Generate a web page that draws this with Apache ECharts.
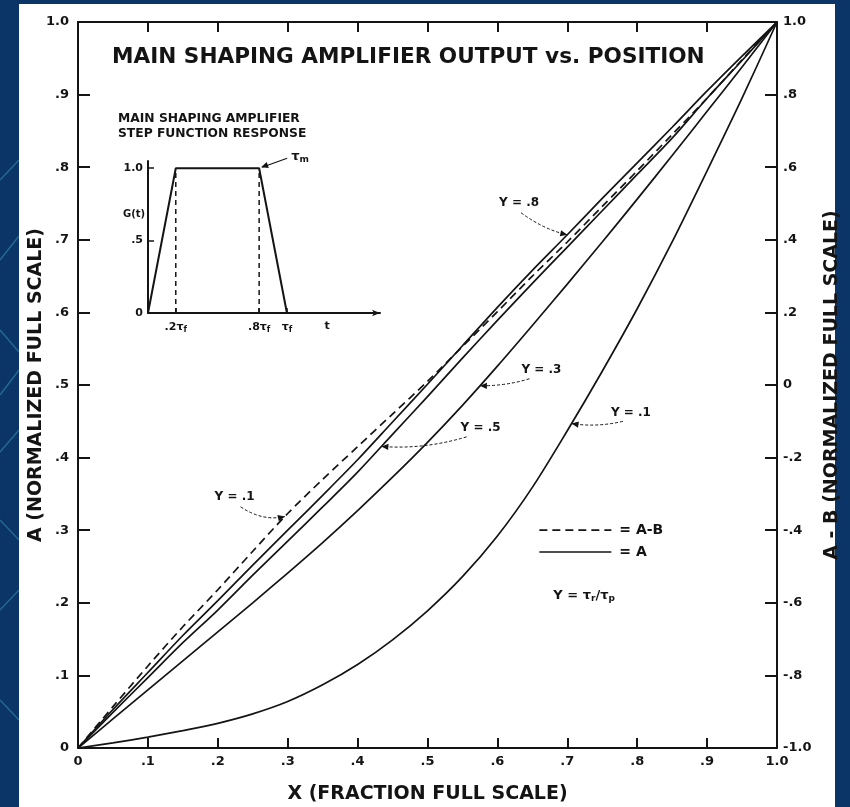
<!DOCTYPE html>
<html>
<head>
<meta charset="utf-8">
<script src="https://cdn.jsdelivr.net/npm/echarts@6/dist/echarts.min.js"></script>
<style>
  html, body { margin: 0; padding: 0; background: #0a3566; }
  #chart { width: 850px; height: 807px; }
</style>
</head>
<body>
<div id="chart"></div>
<script>
// Position along the detector (fraction of full scale)
const xs = [0, .05, .1, .15, .2, .25, .3, .35, .4, .45, .5, .55, .6, .65, .7, .75, .8, .85, .9, .95, 1];

// A (normalized full scale) for several shaping ratios Y = tau_r / tau_p
const aY08 = [0, .053, .104, .155, .203, .252, .300, .348, .397, .449, .501, .554, .607, .658, .707, .757, .806, .855, .905, .953, 1];
const aY05 = [0, .049, .097, .145, .190, .238, .285, .332, .380, .432, .484, .537, .589, .640, .690, .740, .790, .840, .895, .947, 1];
const aY03 = [0, .040, .080, .120, .160, .200, .241, .283, .327, .373, .421, .472, .526, .582, .639, .697, .756, .816, .877, .938, 1];
const aY01 = [0, .007, .015, .024, .034, .047, .064, .087, .115, .149, .189, .236, .292, .359, .437, .519, .605, .697, .795, .895, 1];

// A - B (normalized full scale, right-hand axis) for Y = .1
const abY01 = [-1, -.886, -.774, -.666, -.564, -.458, -.354, -.260, -.170, -.080, .010, .106, .202, .300, .394, .492, .590, .690, .790, .896, 1];

// Inset: main shaping amplifier step function response, t in units of tau_f
const stepT = [0, .2, .8, 1];
const stepG = [0, 1, 1, 0];
const stepGuides = [.2, .8];
const stepTicks = [.2, .8, 1];
const stepTickText = ['.2τ{s|f}', '.8τ{s|f}', 'τ{s|f}'];

// Curve labels: text, label centre (x, A), curve and x where the arrow lands
const curveNotes = [
  { text: 'Y = .1', at: [.224, .346], curve: 'abY01', tipX: .296, start: [6, 10], sag: 10 },
  { text: 'Y = .8', at: [.631, .751], curve: 'aY08', tipX: .700, start: [2, 10], sag: 6 },
  { text: 'Y = .3', at: [.663, .521], curve: 'aY03', tipX: .575, start: [-12, 9], sag: 4 },
  { text: 'Y = .5', at: [.576, .441], curve: 'aY05', tipX: .434, start: [-14, 9], sag: 8 },
  { text: 'Y = .1', at: [.791, .461], curve: 'aY01', tipX: .706, start: [-8, 8], sag: 5 }
];

const curves = { aY08, aY05, aY03, aY01, abY01 };
const curveAxis = { aY08: 0, aY05: 0, aY03: 0, aY01: 0, abY01: 1 };

const INK = '#141414';
const FONT = 'DejaVu Sans';

const pairs = ys => xs.map((x, i) => [x, ys[i]]);
const frac = v => {
  const n = Math.round(v * 10);
  if (n === 0) return '0';
  if (Math.abs(n) === 10) return (n < 0 ? '-' : '') + '1.0';
  return (n < 0 ? '-' : '') + '.' + Math.abs(n);
};

const chart = echarts.init(document.getElementById('chart'), null, { renderer: 'canvas' });

const solid = (name, ys) => ({
  name, type: 'line', data: pairs(ys), xAxisIndex: 0, yAxisIndex: 0,
  smooth: 0.3, showSymbol: false, symbol: 'none', silent: true,
  lineStyle: { color: INK, width: 1.7 }, z: 5
});

const axisText = { color: INK, fontFamily: FONT, fontWeight: 'bold', fontSize: 13 };
const nameText = { color: INK, fontFamily: FONT, fontWeight: 'bold', fontSize: 19 };

chart.setOption({
  animation: false,
  backgroundColor: 'transparent',
  title: {
    text: 'MAIN SHAPING AMPLIFIER OUTPUT vs. POSITION',
    left: 107, top: 41,
    textStyle: { color: INK, fontFamily: FONT, fontWeight: 'bold', fontSize: 21.6 }
  },
  grid: [
    { left: 78, right: 73, top: 22, bottom: 59, containLabel: false, outerBoundsMode: 'none' },
    { left: 148, top: 161, width: 232, height: 152, containLabel: false, outerBoundsMode: 'none' }
  ],
  xAxis: [
    {
      type: 'value', gridIndex: 0, min: 0, max: 1, interval: .1, position: 'bottom',
      name: 'X (FRACTION FULL SCALE)', nameLocation: 'middle', nameGap: 37,
      nameTextStyle: nameText,
      axisLine: { onZero: false, lineStyle: { color: INK, width: 2 } },
      axisTick: { inside: true, length: 10, lineStyle: { color: INK, width: 2 } },
      axisLabel: Object.assign({ margin: 7, formatter: frac }, axisText),
      splitLine: { show: false }
    },
    {
      type: 'value', gridIndex: 0, min: 0, max: 1, interval: .1, position: 'top',
      axisLine: { onZero: false, lineStyle: { color: INK, width: 2 } },
      axisTick: { inside: true, length: 10, lineStyle: { color: INK, width: 2 } },
      axisLabel: { show: false }, splitLine: { show: false }
    },
    {
      type: 'value', gridIndex: 1, min: 0, max: 1.67,
      axisLine: { onZero: false, symbol: ['none', 'arrow'], symbolSize: [5, 8], lineStyle: { color: INK, width: 2 } },
      axisTick: { show: true, inside: true, length: 5, customValues: stepTicks, lineStyle: { color: INK, width: 1.5 } },
      axisLabel: {
        customValues: stepTicks, margin: 7,
        formatter: v => stepTickText[stepTicks.findIndex(t => Math.abs(t - v) < 1e-6)] || '',
        color: INK, fontFamily: FONT, fontWeight: 'bold', fontSize: 11,
        rich: { s: { fontSize: 8, fontFamily: FONT, fontWeight: 'bold', color: INK, verticalAlign: 'bottom', padding: [6, 0, 0, 0] } }
      },
      splitLine: { show: false }
    }
  ],
  yAxis: [
    {
      type: 'value', gridIndex: 0, min: 0, max: 1, interval: .1, position: 'left',
      name: 'A (NORMALIZED FULL SCALE)', nameLocation: 'middle', nameGap: 32, nameRotate: 90,
      nameMoveOverlap: false,
      nameTextStyle: nameText,
      axisLine: { show: true, onZero: false, lineStyle: { color: INK, width: 2 } },
      axisTick: { show: true, inside: true, length: 12, lineStyle: { color: INK, width: 2 } },
      axisLabel: Object.assign({ margin: 9, formatter: frac }, axisText),
      splitLine: { show: false }
    },
    {
      type: 'value', gridIndex: 0, min: -1, max: 1, interval: .2, position: 'right',
      name: 'A - B (NORMALIZED FULL SCALE)', nameLocation: 'middle', nameGap: 42, nameRotate: 90,
      nameTextStyle: nameText,
      axisLine: { show: true, onZero: false, lineStyle: { color: INK, width: 2 } },
      axisTick: { show: true, inside: true, length: 12, lineStyle: { color: INK, width: 2 } },
      axisLabel: Object.assign({ margin: 6, formatter: frac }, axisText),
      splitLine: { show: false }
    },
    {
      type: 'value', gridIndex: 1, min: 0, max: 1.05,
      axisLine: { show: true, onZero: false, lineStyle: { color: INK, width: 2 } },
      axisTick: { show: true, inside: true, length: 6, customValues: [0, .5, 1], lineStyle: { color: INK, width: 1.5 } },
      axisLabel: {
        customValues: [0, .5, 1], margin: 5,
        formatter: v => v === 0 ? '0' : v === 1 ? '1.0' : '.5',
        color: INK, fontFamily: FONT, fontWeight: 'bold', fontSize: 11
      },
      splitLine: { show: false }
    }
  ],
  series: [
    solid('Y = .8', aY08),
    solid('Y = .5', aY05),
    solid('Y = .3', aY03),
    solid('Y = .1', aY01),
    {
      name: 'A-B, Y = .1', type: 'line', data: pairs(abY01), xAxisIndex: 0, yAxisIndex: 1,
      smooth: 0.3, showSymbol: false, symbol: 'none', silent: true,
      lineStyle: { color: INK, width: 1.7, type: [8, 5] }, z: 6
    },
    {
      name: 'G(t)', type: 'line', data: stepT.map((t, i) => [t, stepG[i]]),
      xAxisIndex: 2, yAxisIndex: 2, showSymbol: false, symbol: 'none', silent: true,
      lineStyle: { color: INK, width: 2 }, z: 5
    },
    ...stepGuides.map(t => ({
      type: 'line', data: [[t, 0], [t, 1]], xAxisIndex: 2, yAxisIndex: 2,
      showSymbol: false, symbol: 'none', silent: true,
      lineStyle: { color: INK, width: 1.5, type: [5, 4] }, z: 4
    }))
  ]
});

// ---- annotation layer (positions come from the axes) ----
const toPx = (axis, pt) => chart.convertToPixel({ xAxisIndex: 0, yAxisIndex: axis }, pt);
const toInset = pt => chart.convertToPixel({ xAxisIndex: 2, yAxisIndex: 2 }, pt);

function curveAt(key, x) {
  const ys = curves[key];
  for (let i = 1; i < xs.length; i++) {
    if (x <= xs[i]) {
      const f = (x - xs[i - 1]) / (xs[i] - xs[i - 1]);
      return ys[i - 1] + f * (ys[i] - ys[i - 1]);
    }
  }
  return ys[ys.length - 1];
}

function arrowHead(tip, from, size) {
  const a = Math.atan2(tip[1] - from[1], tip[0] - from[0]);
  const w = size * 0.45;
  const bx = tip[0] - size * Math.cos(a), by = tip[1] - size * Math.sin(a);
  return {
    type: 'polygon', silent: true, z: 20,
    shape: { points: [tip, [bx + w * Math.sin(a), by - w * Math.cos(a)], [bx - w * Math.sin(a), by + w * Math.cos(a)]] },
    style: { fill: INK }
  };
}

const labelText = { fill: INK, fontFamily: FONT, fontWeight: 'bold', fontSize: 12 };
const g = [];

// white page behind the plot
g.push({ type: 'rect', silent: true, z: -10, shape: { x: 19, y: 4, width: 816, height: 803 }, style: { fill: '#ffffff' } });
// board traces on the dark margin
[[0, 180, 19, 160], [0, 260, 19, 236], [0, 330, 19, 352], [0, 395, 19, 370], [0, 452, 19, 430], [0, 520, 19, 540], [0, 610, 19, 590], [0, 700, 19, 720]].forEach(l => {
  g.push({ type: 'line', silent: true, z: -11, shape: { x1: l[0], y1: l[1], x2: l[2], y2: l[3] }, style: { stroke: 'rgba(90,200,220,0.35)', lineWidth: 1.5 } });
});

curveNotes.forEach(n => {
  const c = toPx(0, n.at);
  g.push({ type: 'text', silent: true, z: 20, x: c[0], y: c[1], style: Object.assign({ text: n.text, align: 'center', verticalAlign: 'middle' }, labelText) });
  const tip = toPx(curveAxis[n.curve], [n.tipX, curveAt(n.curve, n.tipX)]);
  const s = [c[0] + n.start[0], c[1] + n.start[1]];
  const mid = [(s[0] + tip[0]) / 2, (s[1] + tip[1]) / 2 + n.sag];
  g.push({
    type: 'bezierCurve', silent: true, z: 19,
    shape: { x1: s[0], y1: s[1], x2: tip[0], y2: tip[1], cpx1: mid[0], cpy1: mid[1] },
    style: { stroke: INK, lineWidth: 1, lineDash: [3, 2], fill: null }
  });
  g.push(arrowHead(tip, mid, 7));
});

// legend and ratio definition
const lg1 = toPx(0, [.66, .300]);
const lg2 = toPx(0, [.66, .270]);
g.push({ type: 'line', silent: true, z: 20, shape: { x1: lg1[0], y1: lg1[1], x2: lg1[0] + 72, y2: lg1[1] }, style: { stroke: INK, lineWidth: 1.7, lineDash: [8, 5] } });
g.push({ type: 'line', silent: true, z: 20, shape: { x1: lg2[0], y1: lg2[1], x2: lg2[0] + 72, y2: lg2[1] }, style: { stroke: INK, lineWidth: 1.7 } });
g.push({ type: 'text', silent: true, z: 20, x: lg1[0] + 80, y: lg1[1], style: Object.assign({ text: '= A-B', verticalAlign: 'middle' }, labelText, { fontSize: 14 }) });
g.push({ type: 'text', silent: true, z: 20, x: lg2[0] + 80, y: lg2[1], style: Object.assign({ text: '= A', verticalAlign: 'middle' }, labelText, { fontSize: 14 }) });
const yDef = toPx(0, [.68, .210]);
g.push({
  type: 'text', silent: true, z: 20, x: yDef[0], y: yDef[1],
  style: Object.assign({
    text: 'Y = τ{s|r}/τ{s|p}', verticalAlign: 'middle',
    rich: { s: { fontSize: 9, fontFamily: FONT, fontWeight: 'bold', fill: INK, padding: [6, 0, 0, 0] } }
  }, labelText, { fontSize: 13 })
});

// inset caption and annotations
const inTop = toInset([0, 1.05]);
g.push({ type: 'text', silent: true, z: 20, x: 118, y: inTop[1] - 50, style: Object.assign({ text: 'MAIN SHAPING AMPLIFIER\nSTEP FUNCTION RESPONSE', lineHeight: 15 }, labelText, { fontSize: 12.3 }) });
const gLab = toInset([0, .68]);
g.push({ type: 'text', silent: true, z: 20, x: gLab[0] - 25, y: gLab[1], style: Object.assign({ text: 'G(t)', verticalAlign: 'middle' }, labelText, { fontSize: 10 }) });
const tLab = toInset([1.29, 0]);
g.push({ type: 'text', silent: true, z: 20, x: tLab[0], y: tLab[1] + 13, style: Object.assign({ text: 't', align: 'center', verticalAlign: 'middle' }, labelText, { fontSize: 11 }) });
const corner = toInset([.8, 1]);
const tmFrom = [corner[0] + 28, corner[1] - 10];
g.push({ type: 'line', silent: true, z: 20, shape: { x1: tmFrom[0], y1: tmFrom[1], x2: corner[0] + 3, y2: corner[1] - 1 }, style: { stroke: INK, lineWidth: 1.2 } });
g.push(arrowHead([corner[0] + 2, corner[1] - 1], tmFrom, 7));
g.push({
  type: 'text', silent: true, z: 20, x: tmFrom[0] + 4, y: tmFrom[1] - 2,
  style: Object.assign({ text: 'τ{s|m}', verticalAlign: 'middle', rich: { s: { fontSize: 9, fontFamily: FONT, fontWeight: 'bold', fill: INK, padding: [6, 0, 0, 0] } } }, labelText, { fontSize: 13 })
});

chart.setOption({ graphic: g });
</script>
</body>
</html>
